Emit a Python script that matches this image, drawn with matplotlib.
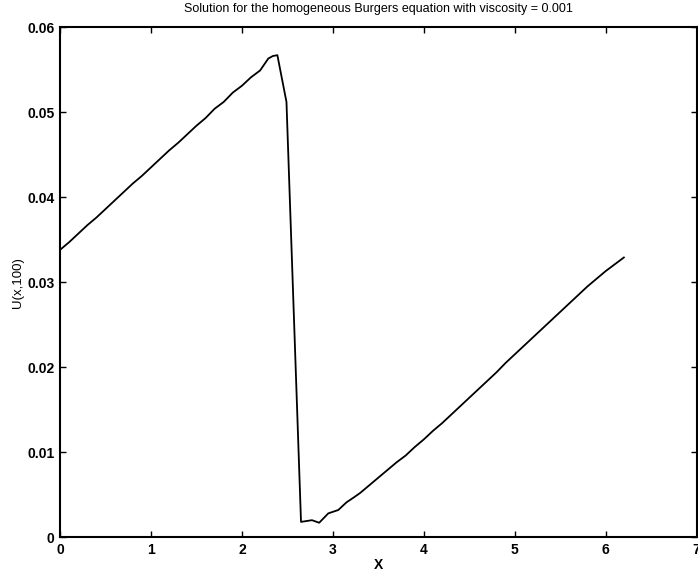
import matplotlib
matplotlib.use("Agg")
import matplotlib.pyplot as plt

# values
x = [0.0, 0.1, 0.2, 0.3, 0.4, 0.5, 0.6, 0.7, 0.8, 0.9,
     1.0, 1.1, 1.2, 1.3, 1.4, 1.5, 1.6, 1.7, 1.8, 1.9,
     2.0, 2.1, 2.2, 2.29, 2.34, 2.39, 2.49, 2.65, 2.77, 2.85,
     2.95, 3.06, 3.15, 3.22, 3.3, 3.4, 3.5, 3.6, 3.7, 3.8,
     3.9, 4.0, 4.1, 4.2, 4.3, 4.4, 4.5, 4.6, 4.7, 4.8,
     4.9, 5.0, 5.1, 5.2, 5.3, 5.4, 5.5, 5.6, 5.7, 5.8,
     5.9, 6.0, 6.1, 6.2]
u = [0.0338, 0.0347, 0.0357, 0.0367, 0.0376, 0.0386, 0.0396, 0.0406, 0.0416, 0.0425,
     0.0435, 0.0445, 0.0455, 0.0464, 0.0474, 0.0484, 0.0493, 0.0504, 0.0512, 0.0523,
     0.0531, 0.0541, 0.0549, 0.0563, 0.0566, 0.0567, 0.0512, 0.0018, 0.0020, 0.0017,
     0.0028, 0.0032, 0.0041, 0.0046, 0.0052, 0.0061, 0.0070, 0.0079, 0.0088, 0.0096,
     0.0106, 0.0115, 0.0125, 0.0134, 0.0144, 0.0154, 0.0164, 0.0174, 0.0184, 0.0194,
     0.0205, 0.0215, 0.0225, 0.0235, 0.0245, 0.0255, 0.0265, 0.0275, 0.0285, 0.0295,
     0.0304, 0.0313, 0.0321, 0.0329]

xticks = [0, 1, 2, 3, 4, 5, 6, 7]
yticks = [0, 0.01, 0.02, 0.03, 0.04, 0.05, 0.06]
ytick_labels = ["0", "0.01", "0.02", "0.03", "0.04", "0.05", "0.06"]

plt.rcParams["font.family"] = ["Liberation Sans", "DejaVu Sans"]

fig = plt.figure(figsize=(6.98, 5.77), dpi=100)
ax = fig.add_axes([0.086, 0.069, 0.912, 0.884])

ax.plot(x, u, color="black", linewidth=1.3)

ax.set_xlim(0, 7)
ax.set_ylim(0, 0.06)
ax.set_xticks(xticks)
ax.set_yticks(yticks)
ax.set_yticklabels(ytick_labels)
ax.tick_params(direction="in", length=4, width=1.0, top=True, right=True,
               labelsize=10, pad=4)
for lab in ax.get_xticklabels() + ax.get_yticklabels():
    lab.set_fontweight("bold")
for s in ax.spines.values():
    s.set_linewidth(1.5)

ax.set_title("Solution for the homogeneous Burgers equation with viscosity = 0.001",
             fontsize=9, pad=11)
ax.set_xlabel("X", fontsize=10, fontweight="bold", labelpad=1)
ax.set_ylabel("U(x,100)", fontsize=9.5, labelpad=2)

fig.savefig("out.png", dpi=100)
